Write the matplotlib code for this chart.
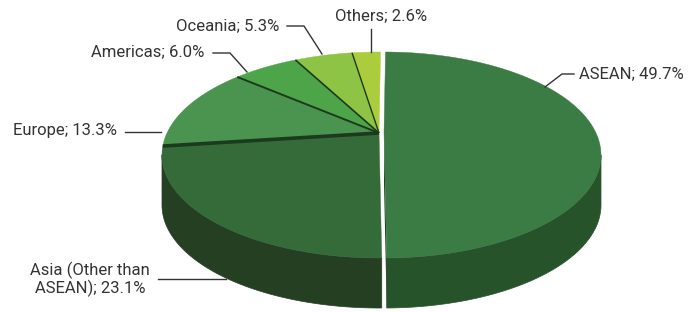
import numpy as np
import matplotlib.pyplot as plt
from matplotlib.patches import Polygon

# data
regions = ["ASEAN", "Asia (Other than\nASEAN)", "Europe", "Americas", "Oceania", "Others"]
shares = [49.7, 23.1, 13.3, 6.0, 5.3, 2.6]
top_colors = ["#3a7c44", "#356a39", "#4a944f", "#4ea448", "#8dc445", "#abcd3d"]
side_colors = ["#27532b", "#253f23", "#32683a", "#367a33", "#6a9a2f", "#88a52b"]
explode = [5, 0, 0, 0, 0, 0]

# geometry of the projected pie (pixel coordinates, y down)
cx, cy = 379, 133
rx, ry = 212, 98.3
persp = 0.2136
depth = 50
start = 89.5


def rim(phi, dx=0.0, drop=0.0):
    p = np.radians(phi)
    s = 1 + persp * np.sin(p)
    return cx + dx + rx * np.cos(p) / s, cy - ry * np.sin(p) / s + drop


def arc(a, b, dx=0.0, drop=0.0, n=120):
    phis = np.linspace(a, b, n)
    x, y = rim(phis, dx, drop)
    return np.column_stack([x, y])


fig = plt.figure(figsize=(6.89, 3.12), dpi=100)
ax = fig.add_axes([0, 0, 1, 1])
ax.set_xlim(0, 689)
ax.set_ylim(312, 0)
ax.axis("off")

edges = start - 3.6 * np.concatenate([[0], np.cumsum(shares)])
a_front = np.degrees(np.arcsin(persp))
lo_lim, hi_lim = -180 + a_front, -a_front

# outer walls (front facing part only)
for i in range(len(shares)):
    hi, lo = edges[i], edges[i + 1]
    a, b = min(hi, hi_lim), max(lo, lo_lim)
    if a <= b:
        continue
    top = arc(a, b, explode[i])
    bot = arc(b, a, explode[i], depth)
    ax.add_patch(Polygon(np.vstack([top, bot]), closed=True,
                         fc=side_colors[i], ec=side_colors[i], lw=0.5, zorder=1))

# cut face of the pulled-out slice
e = edges[1]
rx0, ry0 = rim(e, explode[0])
face = [(cx + explode[0], cy), (rx0, ry0), (rx0, ry0 + depth), (cx + explode[0], cy + depth)]
ax.add_patch(Polygon(face, closed=True, fc="#1d3d20", ec="none", zorder=1.5))

# top faces
for i in range(len(shares)):
    pts = np.vstack([[cx + explode[i], cy], arc(edges[i], edges[i + 1], explode[i])])
    ax.add_patch(Polygon(pts, closed=True, fc=top_colors[i], ec=top_colors[i],
                         lw=0.3, zorder=2))

# dark seams between the top slices
for j, lw in zip([2, 3, 4, 5], [2.6, 1.4, 1.2, 1.0]):
    x1, y1 = rim(edges[j])
    ax.plot([cx, x1], [cy, y1], color="#1c3a1e", lw=lw, zorder=3,
            solid_capstyle="butt")

# labels with leader lines
labels = [f"{r}; {v:.1f}%" for r, v in zip(regions, shares)]
txt = dict(fontsize=12, color="#333333", family="Roboto")
line = dict(color="#333333", lw=1.0, zorder=4)

ax.text(579, 74, labels[0], ha="left", va="center", **txt)
ax.plot([545, 562, 574], [87, 74, 74], **line)

ax.text(90, 279, labels[1], ha="center", va="center", multialignment="center",
        linespacing=1.05, **txt)
ax.plot([158, 226], [279, 279], **line)

ax.text(117, 131, labels[2], ha="right", va="center", **txt)
ax.plot([125, 161], [132, 132], **line)

ax.text(204, 52, labels[3], ha="right", va="center", **txt)
ax.plot([213, 230, 247], [53, 53, 72], **line)

ax.text(279, 26, labels[4], ha="right", va="center", **txt)
ax.plot([287, 304, 322], [26, 26, 54], **line)

ax.text(381, 16, labels[5], ha="center", va="center", **txt)
ax.plot([371, 371], [29, 52], **line)

fig.savefig("out.png", dpi=100)
